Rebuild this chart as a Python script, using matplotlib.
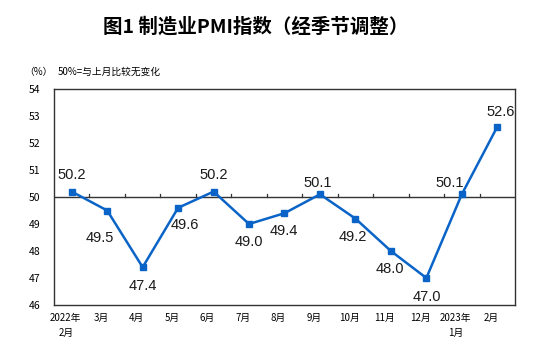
import matplotlib
matplotlib.use("Agg")
import matplotlib.pyplot as plt
from matplotlib.transforms import ScaledTranslation

plt.rcParams['font.family'] = ['Noto Sans CJK SC', 'DejaVu Sans']

months = ["2022年\n2月", "3月", "4月", "5月", "6月", "7月", "8月", "9月", "10月",
          "11月", "12月", "2023年\n1月", "2月"]
pmi = [50.2, 49.5, 47.4, 49.6, 50.2, 49.0, 49.4, 50.1, 49.2, 48.0, 47.0, 50.1, 52.6]
yticks = [46, 47, 48, 49, 50, 51, 52, 53, 54]

# label offsets in pixels (dx, dy) relative to each point (layout only)
label_offsets = [(0, 17), (-7, -28), (0, -19), (7, -17), (0, 17), (0, -18), (-1, -18),
                 (-2, 11), (-3, -18), (-1, -18), (1, -19), (-12, 11), (3, 15)]

W, H = 554, 349
fig = plt.figure(figsize=(W/100, H/100), dpi=100)
ax = fig.add_axes([54/W, 1-305/H, (515-54)/W, (305-89)/H])

x = list(range(len(pmi)))
color = '#0A64C8'
ax.plot(x, pmi, color=color, lw=1.8, marker='s', ms=5, mfc=color, mec=color, zorder=3)

for xi, v, (dx, dy) in zip(x, pmi, label_offsets):
    ax.annotate(f"{v:.1f}", (xi, v), xytext=(dx*0.72, dy*0.72), textcoords='offset points',
                ha='center', va='center', fontsize=10.5, family='Liberation Sans',
                color='#1a1a1a')

ax.set_xlim(-0.5, len(pmi)-0.5)
ax.set_ylim(46, 54)
ax.set_yticks(yticks)
ax.set_yticklabels([str(t) for t in yticks], fontsize=7.5)
ax.tick_params(axis='y', length=0, pad=10)
ax.set_xticks(x)
ax.set_xticklabels(months, fontsize=7, linespacing=1.6)
ax.tick_params(axis='x', length=0, pad=6)
shift = ScaledTranslation(-6/100, 0, fig.dpi_scale_trans)
for lbl in ax.get_xticklabels():
    lbl.set_transform(lbl.get_transform() + shift)

# 50 reference line with ticks between categories
ax.axhline(50, color='#333333', lw=1.0, zorder=2)
for b in range(1, len(pmi)):
    ax.plot([b-0.5, b-0.5], [50, 50.12], color='#333333', lw=0.9, zorder=2)

for s in ax.spines.values():
    s.set_color('#333333')
    s.set_linewidth(1.0)

fig.text(256/W, 1-27/H, "图1 制造业PMI指数（经季节调整）", ha='center', va='center',
         fontsize=14, fontweight='bold')
fig.text(24/W, 1-72/H, "（%）", ha='left', va='center', fontsize=7)
fig.text(58/W, 1-72/H, "50%=与上月比较无变化", ha='left', va='center', fontsize=7)

fig.savefig("out.png", dpi=100)
